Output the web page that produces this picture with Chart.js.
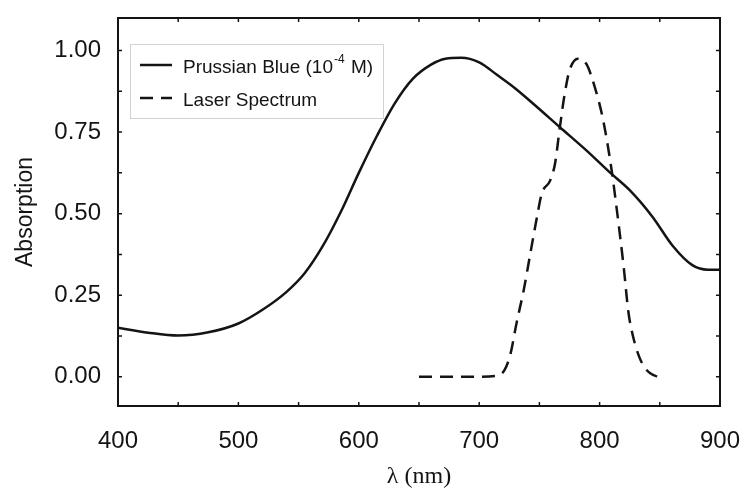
<!DOCTYPE html>
<html><head><meta charset="utf-8">
<script src="https://cdn.jsdelivr.net/npm/chart.js@4.4.0/dist/chart.umd.min.js"></script>
<style>html,body{margin:0;padding:0;background:#fff;}</style>
</head><body>
<canvas id="c" width="747" height="491" style="display:block;width:747px;height:491px"></canvas>
<script>
// ---- data ----
const pbWavelength = [400,425,450,475,500,520,540,555,570,585,600,615,630,645,660,672,685,700,715,730,748,767,789,808,825,844,861,877,890,900];
const pbAbsorption = [0.150,0.135,0.126,0.136,0.163,0.205,0.260,0.317,0.400,0.505,0.625,0.738,0.839,0.914,0.957,0.975,0.978,0.964,0.925,0.884,0.827,0.765,0.694,0.628,0.572,0.490,0.400,0.342,0.328,0.328];
const laserWavelength = [650,680,700,715,721,726,731,737,742,748,752,759,763,767,771,775,782,789,796,803,810,814,820,824,828,833,838,843,848];
const laserAbsorption = [0.0,0.0,0.0,0.003,0.02,0.07,0.164,0.266,0.368,0.49,0.562,0.602,0.654,0.765,0.867,0.939,0.975,0.959,0.888,0.786,0.633,0.521,0.337,0.196,0.12,0.06,0.025,0.008,0.0];
const seriesLabels = ['Prussian Blue (10⁻⁴ M)', 'Laser Spectrum'];
const xTickLabels = [400,500,600,700,800,900];
const yTickLabels = [0.00,0.25,0.50,0.75,1.00];
const xTickMarks = [400,450,500,550,600,650,700,750,800,850,900];
const yTickMarks = [0,0.125,0.25,0.375,0.5,0.625,0.75,0.875,1.0];
const xTitle = 'λ (nm)';
const yTitle = 'Absorption';

const INK = '#141414';
const SANS = '"Liberation Sans", Arial, Helvetica, sans-serif';

const framePlugin = {
  id: 'frame',
  afterDraw(chart) {
    const {ctx, chartArea: a, scales: {x, y}} = chart;
    ctx.save();
    ctx.strokeStyle = INK;
    ctx.lineWidth = 1.5;
    const t = 4;
    ctx.beginPath();
    xTickMarks.forEach(v => {
      const px = x.getPixelForValue(v);
      ctx.moveTo(px, a.bottom); ctx.lineTo(px, a.bottom - t);
      ctx.moveTo(px, a.top); ctx.lineTo(px, a.top + t);
    });
    yTickMarks.forEach(v => {
      const py = y.getPixelForValue(v);
      ctx.moveTo(a.left, py); ctx.lineTo(a.left + t, py);
      ctx.moveTo(a.right, py); ctx.lineTo(a.right - t, py);
    });
    ctx.stroke();
    ctx.lineWidth = 2;
    ctx.strokeRect(a.left, a.top, a.right - a.left, a.bottom - a.top);
    ctx.restore();
  }
};

const supMap = {'⁻':'-','⁰':'0','¹':'1','²':'2','³':'3','⁴':'4','⁵':'5','⁶':'6','⁷':'7','⁸':'8','⁹':'9'};
function drawRich(ctx, text, x, y, size) {
  const parts = text.split(/([⁻⁰¹²³⁴⁵⁶⁷⁸⁹]+)/);
  let cx = x;
  parts.forEach(p => {
    if (!p) return;
    if (/^[⁻⁰¹²³⁴⁵⁶⁷⁸⁹]+$/.test(p)) {
      const s = p.split('').map(ch => supMap[ch]).join('');
      ctx.font = `${Math.round(size*0.65)}px ${SANS}`;
      ctx.fillText(s, cx + 1, y - size*0.42);
      cx += ctx.measureText(s).width + 2;
    } else {
      ctx.font = `${size}px ${SANS}`;
      ctx.fillText(p, cx, y);
      cx += ctx.measureText(p).width;
    }
  });
}

const legendPlugin = {
  id: 'insideLegend',
  afterDatasetsDraw(chart) {
    const {ctx, chartArea: a} = chart;
    ctx.save();
    const bx = a.left + 12, by = a.top + 26, bw = 253, bh = 74;
    ctx.strokeStyle = '#d2d2d2';
    ctx.lineWidth = 1;
    ctx.strokeRect(bx + 0.5, by + 0.5, bw, bh);
    ctx.fillStyle = INK;
    ctx.textBaseline = 'middle';
    chart.data.datasets.forEach((ds, i) => {
      const ly = by + 22 + i * 33;
      ctx.strokeStyle = INK;
      ctx.lineWidth = 2.5;
      ctx.setLineDash(ds.borderDash || []);
      ctx.beginPath();
      ctx.moveTo(a.left + 22, ly - 1);
      ctx.lineTo(a.left + 54, ly - 1);
      ctx.stroke();
      ctx.setLineDash([]);
      drawRich(ctx, ds.label, a.left + 65, ly + 2, 19);
    });
    ctx.restore();
  }
};

const toPoints = (xs, ys) => xs.map((v, i) => ({x: v, y: ys[i]}));

new Chart(document.getElementById('c'), {
  type: 'line',
  data: {
    datasets: [
      { label: seriesLabels[0], data: toPoints(pbWavelength, pbAbsorption),
        borderColor: INK, borderWidth: 2.5, pointRadius: 0, fill: false,
        cubicInterpolationMode: 'monotone' },
      { label: seriesLabels[1], data: toPoints(laserWavelength, laserAbsorption),
        borderColor: INK, borderWidth: 2.5, pointRadius: 0, fill: false,
        borderDash: [13, 8], cubicInterpolationMode: 'monotone' }
    ]
  },
  options: {
    responsive: false,
    devicePixelRatio: 1,
    animation: false,
    layout: { padding: { top: 18, right: 27, left: 0, bottom: 0 } },
    plugins: { legend: { display: false }, tooltip: { enabled: false } },
    scales: {
      x: {
        type: 'linear', min: 400, max: 900,
        afterBuildTicks(s) { s.ticks = xTickLabels.map(v => ({value: v})); },
        afterFit(s) { s.height = 85; s.paddingLeft = 0; s.paddingRight = 0; },
        grid: { display: false, drawTicks: false },
        border: { display: false },
        ticks: { color: INK, font: { family: SANS, size: 24 }, padding: 21, maxRotation: 0,
                 callback: v => String(v) },
        title: { display: true, text: xTitle, color: INK,
                 font: { family: '"Liberation Serif", "Times New Roman", serif', size: 24 },
                 padding: { top: 0, bottom: 0 } }
      },
      y: {
        type: 'linear', min: -0.09, max: 1.1,
        afterBuildTicks(s) { s.ticks = yTickLabels.map(v => ({value: v})); },
        afterFit(s) { s.width = 118; s.paddingTop = 0; s.paddingBottom = 0; },
        grid: { display: false, drawTicks: false },
        border: { display: false },
        ticks: { color: INK, font: { family: SANS, size: 24 }, padding: 17,
                 callback: v => Number(v).toFixed(2) },
        title: { display: true, text: yTitle, color: INK,
                 font: { family: SANS, size: 23 },
                 padding: { top: 12, bottom: 0 } }
      }
    }
  },
  plugins: [legendPlugin, framePlugin]
});
</script>
</body></html>
